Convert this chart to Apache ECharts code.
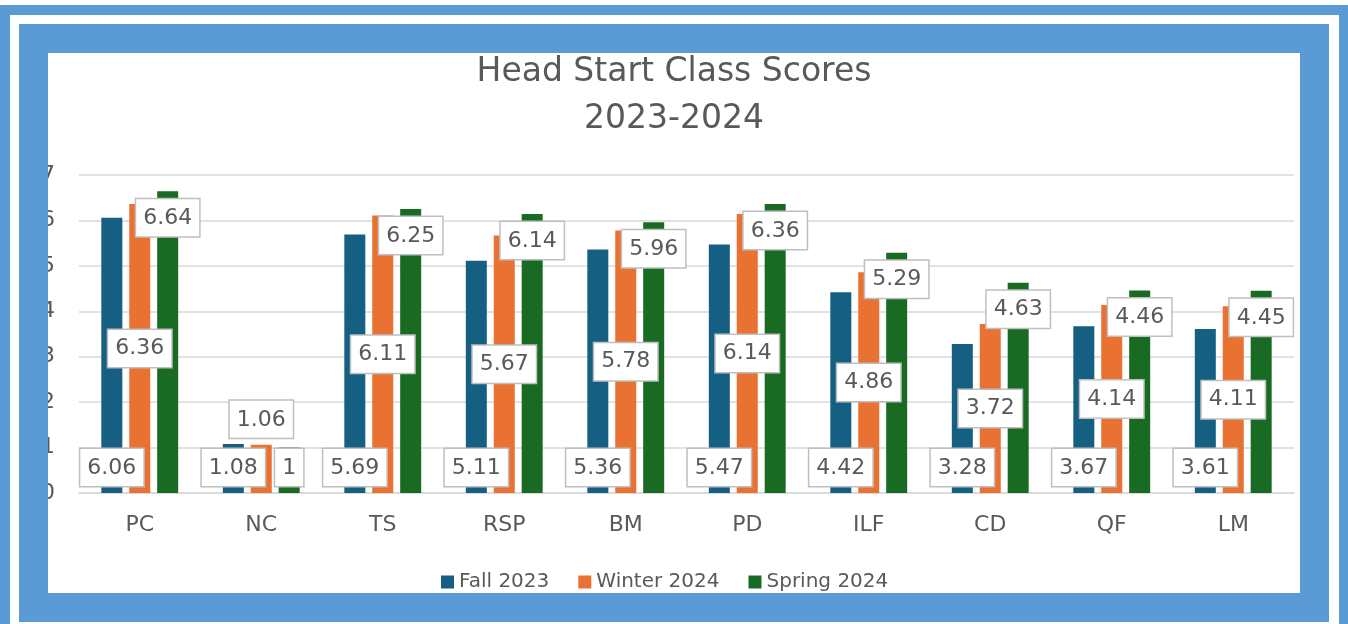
<!DOCTYPE html>
<html>
<head>
<meta charset="utf-8">
<script src="https://cdn.jsdelivr.net/npm/echarts@6/dist/echarts.min.js"></script>
<style>
  html, body { margin: 0; padding: 0; background: #fff; }
  .frame { position: absolute; }
  #outer { left: 0; top: 5px; width: 1348px; height: 619px; background: #5b9bd5; }
  #gap { left: 10px; top: 15px; width: 1329px; height: 609px; background: #fff; }
  #inner { left: 19px; top: 24px; width: 1310px; height: 598px; background: #5b9bd5; }
  #plotArea { left: 48px; top: 53px; width: 1252px; height: 540px; background: #fff; overflow: hidden; }
  #chart { position: absolute; left: -48px; top: -53px; width: 1348px; height: 624px; }
</style>
</head>
<body>
<div class="frame" id="outer"></div>
<div class="frame" id="gap"></div>
<div class="frame" id="inner"></div>
<div class="frame" id="plotArea"><div id="chart"></div></div>
<script>
// categories and scores
var categories = ["PC", "NC", "TS", "RSP", "BM", "PD", "ILF", "CD", "QF", "LM"];
var fall2023 = [6.06, 1.08, 5.69, 5.11, 5.36, 5.47, 4.42, 3.28, 3.67, 3.61];
var winter2024 = [6.36, 1.06, 6.11, 5.67, 5.78, 6.14, 4.86, 3.72, 4.14, 4.11];
var spring2024 = [6.64, 1, 6.25, 6.14, 5.96, 6.36, 5.29, 4.63, 4.46, 4.45];

var font = "DejaVu Sans";
var textColor = "#595959";

// box style shared by all data labels
function labelBox(position, distance) {
  return {
    show: true,
    position: position,
    distance: distance,
    fontFamily: font,
    fontSize: 22,
    color: textColor,
    backgroundColor: "#fff",
    borderColor: "#bfbfbf",
    borderWidth: 1.5,
    padding: [8, 7, 7, 7]
  };
}

var chart = echarts.init(document.getElementById("chart"));

chart.setOption({
  backgroundColor: "transparent",
  color: ["#156082", "#e97132", "#196b24"],
  title: {
    text: "Head Start Class Scores\n2023-2024",
    left: "center",
    top: 49,
    padding: 0,
    textStyle: {
      fontFamily: font,
      fontSize: 33,
      fontWeight: "normal",
      lineHeight: 47,
      color: textColor
    }
  },
  legend: {
    left: 441,
    top: 572,
    padding: 0,
    icon: "rect",
    itemWidth: 13,
    itemHeight: 13,
    itemGap: 29,
    textStyle: { fontFamily: font, fontSize: 20, color: textColor }
  },
  grid: { left: 79, right: 54, top: 175, bottom: 131 },
  xAxis: {
    type: "category",
    data: categories,
    axisTick: { show: false },
    axisLine: { lineStyle: { color: "#d9d9d9", width: 1.5 } },
    axisLabel: { margin: 21, fontFamily: font, fontSize: 22, color: textColor }
  },
  yAxis: {
    type: "value",
    min: 0,
    max: 7,
    interval: 1,
    axisLabel: { margin: 24, fontFamily: font, fontSize: 22, color: textColor },
    splitLine: { lineStyle: { color: "#d9d9d9", width: 1.5 } }
  },
  series: [
    {
      name: "Fall 2023",
      type: "bar",
      barWidth: 21,
      barGap: "33%",
      data: fall2023,
      label: labelBox("insideBottom", 7)
    },
    {
      name: "Winter 2024",
      type: "bar",
      barWidth: 21,
      barGap: "33%",
      data: winter2024.map(function (v, i) {
        // the NC label sits above its short bar
        return categories[i] === "NC" ? { value: v, label: { position: "top", distance: 7 } } : v;
      }),
      label: labelBox("inside", 0)
    },
    {
      name: "Spring 2024",
      type: "bar",
      barWidth: 21,
      barGap: "33%",
      data: spring2024.map(function (v, i) {
        return categories[i] === "NC" ? { value: v, label: { position: "insideBottom", distance: 7 } } : v;
      }),
      label: labelBox("insideTop", 8)
    }
  ]
});
</script>
</body>
</html>
